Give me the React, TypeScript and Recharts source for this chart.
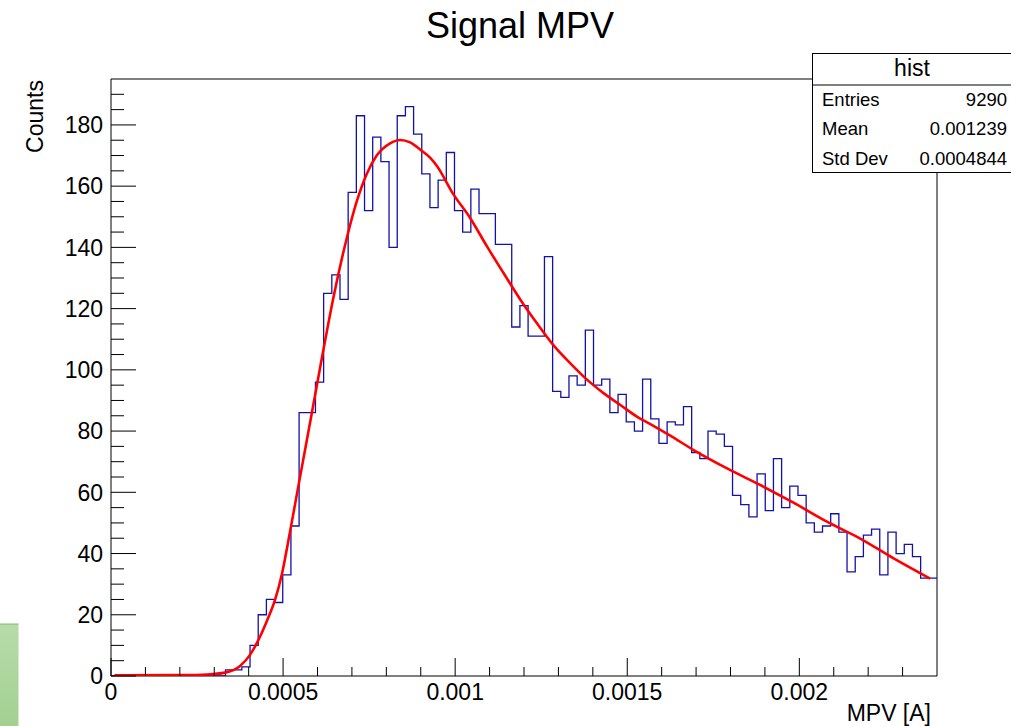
import React from 'react';
import { ComposedChart, Line, XAxis, YAxis, ReferenceArea } from 'recharts';

// Histogram "Signal MPV": bin contents (101 equal bins over [0, 0.0024] A)
const X_MIN = 0;
const X_MAX = 0.0024;
const Y_MAX = 195;
const counts = [
  0, 0, 0, 0, 0, 0, 0, 0, 0, 0,
  0, 0, 0, 0, 2, 2, 3, 10, 20, 25,
  24, 33, 49, 86, 86, 96, 125, 131, 123, 158,
  183, 152, 176, 168, 140, 183, 186, 177, 164, 153,
  162, 171, 152, 145, 159, 151, 151, 141, 141, 114,
  121, 111, 111, 137, 93, 91, 98, 95, 113, 95,
  97, 86, 92, 83, 80, 97, 84, 76, 83, 82,
  88, 73, 71, 80, 79, 75, 59, 56, 52, 66,
  54, 71, 55, 62, 59, 50, 47, 49, 53, 47,
  34, 39, 46, 48, 33, 47, 40, 43, 39, 32,
  32,
];

// Fit curve (red) sampled points
const fitX = [
  0.00001, 0.0002, 0.00028, 0.000331, 0.000375, 0.000404, 0.000427, 0.000453, 0.000477, 0.000497,
  0.00052, 0.000546, 0.000569, 0.000591, 0.000617, 0.000646, 0.000685, 0.000714, 0.000743, 0.000772,
  0.000811, 0.00084, 0.000869, 0.000898, 0.000927, 0.000947, 0.000995, 0.001043, 0.001092, 0.00114,
  0.001189, 0.001237, 0.001286, 0.001334, 0.001383, 0.001431, 0.001479, 0.001528, 0.001576, 0.001625,
  0.001693, 0.00179, 0.001886, 0.001983, 0.00208, 0.002177, 0.002274, 0.00238,
];
const fitY = [
  0.2, 0.3, 0.5, 1.1, 3.3, 6.9, 11.5, 18, 25, 33.5,
  47, 63, 77, 90.5, 106.5, 123.5, 143, 155, 164, 170,
  174, 175.1, 174.3, 172, 169.3, 166.6, 157.3, 149.7, 140.4, 131.7,
  123, 115.3, 108, 102.2, 96.8, 92.4, 88.6, 84.7, 81.7, 78.5,
  73.8, 67.8, 62.4, 56.6, 50.4, 44.9, 38.4, 31.8,
];

const xMajorTicks = [0, 0.0005, 0.001, 0.0015, 0.002];
const xMajorLabels = ['0', '0.0005', '0.001', '0.0015', '0.002'];
const xMinorTicks = [
  0.0001, 0.0002, 0.0003, 0.0004, 0.0006, 0.0007, 0.0008, 0.0009,
  0.0011, 0.0012, 0.0013, 0.0014, 0.0016, 0.0017, 0.0018, 0.0019,
  0.0021, 0.0022, 0.0023,
];
const yMajorTicks = [0, 20, 40, 60, 80, 100, 120, 140, 160, 180];
const yMajorLabels = ['0', '20', '40', '60', '80', '100', '120', '140', '160', '180'];
const yMinorTicks = [
  5, 10, 15, 25, 30, 35, 45, 50, 55, 65, 70, 75, 85, 90, 95,
  105, 110, 115, 125, 130, 135, 145, 150, 155, 165, 170, 175, 185, 190,
];

const statsTitle = 'hist';
const statsLabels = ['Entries', 'Mean', 'Std Dev'];
const statsValues = ['9290', '0.001239', '0.0004844'];

const FONT = '"Liberation Sans", Arial, Helvetica, sans-serif';

const binWidth = (X_MAX - X_MIN) / counts.length;
const histData = counts
  .map((c, i) => ({ x: X_MIN + i * binWidth, y: c }))
  .concat([{ x: X_MAX, y: counts[counts.length - 1] }]);
const fitData = fitX.map((x, i) => ({ x, y: fitY[i] }));

const xTicksAll = [...xMajorTicks, ...xMinorTicks].sort((a, b) => a - b);
const yTicksAll = [...yMajorTicks, ...yMinorTicks].sort((a, b) => a - b);

const majorIndex = (arr: number[], v: number) =>
  arr.findIndex((m) => Math.abs(m - v) < 1e-9);

const XTick = (props: any) => {
  const { x, y, payload } = props;
  const idx = majorIndex(xMajorTicks, payload.value);
  const len = idx >= 0 ? 18 : 9;
  return (
    <g>
      <line x1={x} y1={y} x2={x} y2={y - len} stroke="#000" strokeWidth={1} />
      {idx >= 0 && (
        <text x={x} y={y + 24} textAnchor="middle" fontFamily={FONT} fontSize={23} fill="#000">
          {xMajorLabels[idx]}
        </text>
      )}
    </g>
  );
};

const YTick = (props: any) => {
  const { x, y, payload } = props;
  const idx = majorIndex(yMajorTicks, payload.value);
  const len = idx >= 0 ? 25 : 13;
  return (
    <g>
      <line x1={x} y1={y} x2={x + len} y2={y} stroke="#000" strokeWidth={1} />
      {idx >= 0 && (
        <text x={x - 8} y={y + 8.3} textAnchor="end" fontFamily={FONT} fontSize={23} fill="#000">
          {yMajorLabels[idx]}
        </text>
      )}
    </g>
  );
};

export default function App() {
  return (
    <div style={{ position: 'absolute', left: 0, top: 0, width: 1011, height: 726, background: '#fff', overflow: 'hidden' }}>
      <ComposedChart
        width={1011}
        height={726}
        margin={{ top: 79, right: 74, bottom: 0, left: 0 }}
      >
        <XAxis
          type="number"
          dataKey="x"
          domain={[X_MIN, X_MAX]}
          ticks={xTicksAll}
          interval={0}
          tickSize={0}
          tickMargin={0}
          tickLine={false}
          axisLine={false}
          height={50}
          allowDataOverflow
          tick={(p: any) => <XTick {...p} />}
        />
        <YAxis
          type="number"
          dataKey="y"
          domain={[0, Y_MAX]}
          ticks={yTicksAll}
          interval={0}
          tickSize={0}
          tickMargin={0}
          tickLine={false}
          axisLine={false}
          width={111}
          allowDataOverflow
          tick={(p: any) => <YTick {...p} />}
        />
        <ReferenceArea
          x1={X_MIN}
          x2={X_MAX}
          y1={0}
          y2={Y_MAX}
          fill="none"
          fillOpacity={0}
          stroke="#000"
          strokeWidth={1}
          strokeOpacity={1}
          ifOverflow="visible"
        />
        <Line
          data={histData}
          dataKey="y"
          type="stepAfter"
          stroke="#1212a8"
          strokeWidth={1.3}
          dot={false}
          activeDot={false}
          isAnimationActive={false}
        />
        <Line
          data={fitData}
          dataKey="y"
          type="monotone"
          stroke="#ff0000"
          strokeWidth={2.6}
          dot={false}
          activeDot={false}
          isAnimationActive={false}
        />
      </ComposedChart>
      <svg
        width={1011}
        height={726}
        style={{ position: 'absolute', left: 0, top: 0, pointerEvents: 'none' }}
      >
        <defs>
          <linearGradient id="greenbar" x1="0" y1="0" x2="0" y2="1">
            <stop offset="0%" stopColor="#b7dba9" />
            <stop offset="100%" stopColor="#a3d092" />
          </linearGradient>
        </defs>
        <rect x={0} y={624} width={18.5} height={102} fill="url(#greenbar)" />
        <line x1={0} y1={624} x2={18.5} y2={624} stroke="#7ebc6a" strokeWidth={1} />
        <text x={520} y={38} textAnchor="middle" fontFamily={FONT} fontSize={36} fill="#000">
          Signal MPV
        </text>
        <text
          transform="translate(43,80) rotate(-90)"
          textAnchor="end"
          fontFamily={FONT}
          fontSize={23}
          fill="#000"
        >
          Counts
        </text>
        <text x={931} y={721} textAnchor="end" fontFamily={FONT} fontSize={23} fill="#000">
          MPV [A]
        </text>
        <rect x={812.5} y={53.5} width={210} height={119} fill="#fff" stroke="#000" strokeWidth={1} />
        <line x1={812.5} y1={85} x2={1011} y2={85} stroke="#000" strokeWidth={1} />
        <text x={912} y={76} textAnchor="middle" fontFamily={FONT} fontSize={23} fill="#000">
          {statsTitle}
        </text>
        {statsLabels.map((lab, i) => (
          <g key={lab}>
            <text x={822} y={105.5 + i * 29.5} fontFamily={FONT} fontSize={18.5} fill="#000">
              {lab}
            </text>
            <text x={1007} y={105.5 + i * 29.5} textAnchor="end" fontFamily={FONT} fontSize={18.5} fill="#000">
              {statsValues[i]}
            </text>
          </g>
        ))}
      </svg>
    </div>
  );
}
